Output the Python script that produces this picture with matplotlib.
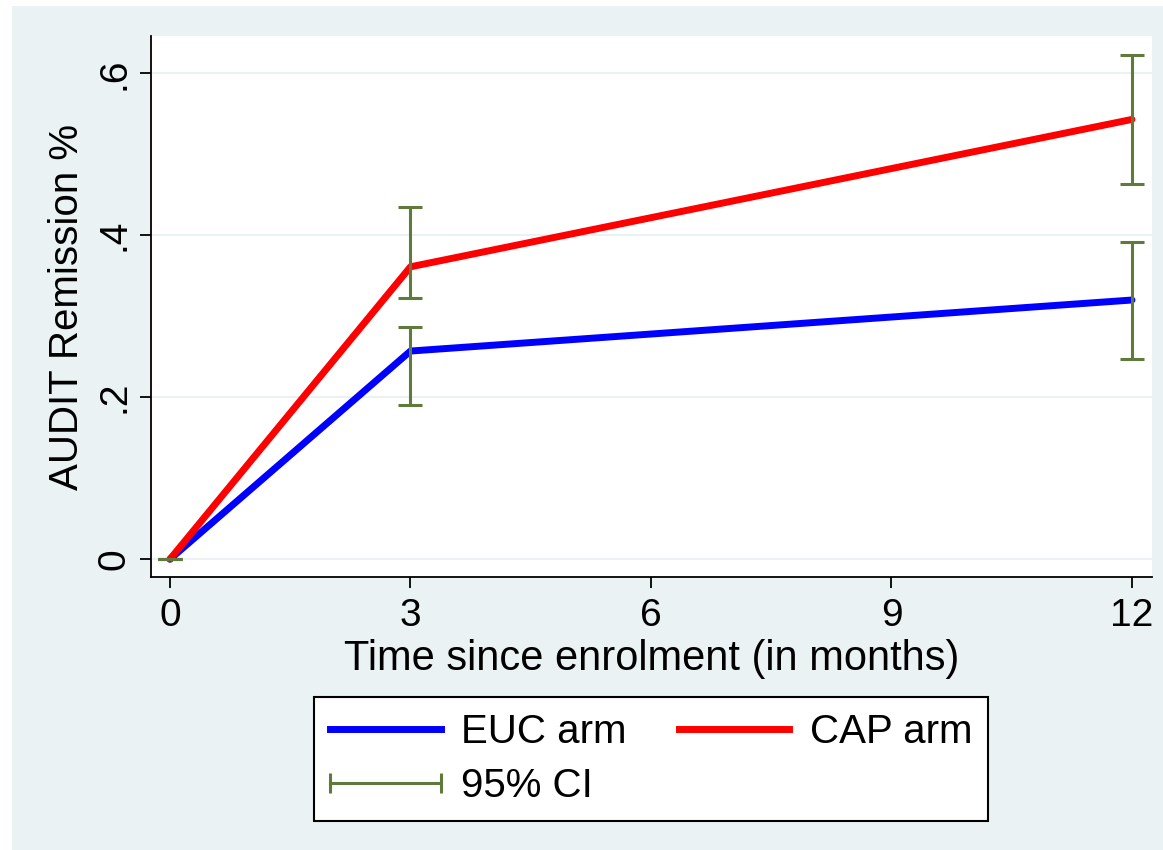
import numpy as np
import matplotlib
matplotlib.use('Agg')
import matplotlib.pyplot as plt
from matplotlib.lines import Line2D
from matplotlib.patches import Rectangle
from matplotlib.legend_handler import HandlerLine2D

plt.rcParams['font.family'] = ['Liberation Sans', 'DejaVu Sans']

# data
months = [0, 3, 12]
euc = [0, 0.257, 0.320]
euc_lo = [0, 0.190, 0.247]
euc_hi = [0, 0.287, 0.392]
cap = [0, 0.361, 0.543]
cap_lo = [0, 0.322, 0.463]
cap_hi = [0, 0.435, 0.623]

bg = '#eaf2f3'
ci_color = '#5e7b3b'


def create_plot():
    fig = plt.figure(figsize=(11.63, 8.5), dpi=100)
    fig.patch.set_facecolor('white')
    # Stata-like outer panel
    fig.patches.append(Rectangle((12 / 1163, 0), 1, 1 - 6 / 850,
                                 transform=fig.transFigure, facecolor=bg,
                                 edgecolor='none', zorder=-10))

    ax = fig.add_axes([151 / 1163, 1 - 577 / 850, (1152 - 151) / 1163, (577 - 36) / 850])
    ax.set_facecolor('white')

    x = np.array(months)
    ax.plot(x, euc, color='#0000ff', lw=5, solid_capstyle='round', label='EUC arm', zorder=3)
    ax.plot(x, cap, color='#ff0000', lw=5, solid_capstyle='round', label='CAP arm', zorder=3)

    for mid, lo, hi in [(euc, euc_lo, euc_hi), (cap, cap_lo, cap_hi)]:
        mid = np.array(mid)
        yerr = [mid - np.array(lo), np.array(hi) - mid]
        ax.errorbar(x, mid, yerr=yerr, fmt='none', ecolor=ci_color,
                    elinewidth=2.2, capsize=8.5, capthick=2.2, zorder=4)

    ax.set_xlim(-0.237, 12.25)
    ax.set_ylim(-0.022, 0.646)
    ax.set_xticks([0, 3, 6, 9, 12])
    ax.set_yticks([0, 0.2, 0.4, 0.6])
    ax.set_yticklabels(['0', '.2', '.4', '.6'], rotation=90, va='center')
    ax.grid(axis='y', color=bg, lw=1.5)
    ax.set_axisbelow(True)

    for s in ['top', 'right']:
        ax.spines[s].set_visible(False)
    for s in ['left', 'bottom']:
        ax.spines[s].set_linewidth(1.3)
    ax.tick_params(axis='both', length=8, width=1.3, labelsize=28, pad=5)
    ax.tick_params(axis='x', pad=7)

    ax.set_xlabel('Time since enrolment (in months)', fontsize=30, labelpad=4)
    ax.set_ylabel('AUDIT Remission %', fontsize=29, labelpad=8)

    h_euc = Line2D([], [], color='#0000ff', lw=5)
    h_cap = Line2D([], [], color='#ff0000', lw=5)
    h_ci = Line2D([], [], color=ci_color, lw=2.2, marker='|', markersize=14, markeredgewidth=2.2)
    leg = fig.legend([h_euc, h_ci, h_cap], ['EUC arm', '95% CI', 'CAP arm'],
                     ncol=2, loc='center', bbox_to_anchor=(651 / 1163, 1 - 759 / 850),
                     fontsize=29, frameon=True, fancybox=False, edgecolor='black',
                     facecolor='white', framealpha=1,
                     handlelength=2.75, handletextpad=0.5, columnspacing=1.3,
                     labelspacing=0.38, borderpad=0.4,
                     handler_map={h_ci: HandlerLine2D(numpoints=2, marker_pad=0)})
    leg.get_frame().set_linewidth(1.5)

    fig.savefig('out.png', dpi=100, facecolor=fig.get_facecolor())


if __name__ == '__main__':
    create_plot()
